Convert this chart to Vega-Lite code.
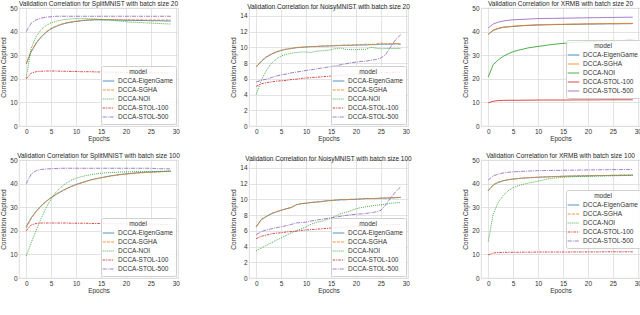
{
"$schema": "https://vega.github.io/schema/vega-lite/v6.json",
"padding": {"left": 0, "top": 0, "right": 0, "bottom": 0},
"background": "white",
"columns": 3,
"spacing": {"row": 10, "column": 49},
"resolve": {"scale": {"color": "independent", "strokeDash": "independent"}, "legend": {"color": "independent", "strokeDash": "independent"}},
"config": {
  "font": "Liberation Sans",
  "view": {"stroke": "#d4d4d4", "strokeWidth": 0.8},
  "title": {"fontSize": 6.5, "fontWeight": "normal", "offset": -2.5, "color": "#262626", "anchor": "middle"},
  "axis": {"labelFontSize": 6.5, "titleFontSize": 6.5, "titleFontWeight": "normal", "labelColor": "#333333", "titleColor": "#333333", "ticks": false, "domain": false, "gridColor": "#dcdcdc", "gridWidth": 0.8},
  "axisX": {"labelPadding": 2.5, "titlePadding": 0},
  "axisY": {"labelPadding": 2, "titlePadding": 3},
  "legend": {"titleFontSize": 6.5, "labelFontSize": 6.5, "titleFontWeight": "normal", "titleAnchor": "middle", "fillColor": "rgba(255,255,255,0.85)", "strokeColor": "#d0d0d0", "padding": 3, "cornerRadius": 2, "symbolType": "M-1.45,0L1.45,0", "symbolSize": 64, "symbolStrokeWidth": 1.1, "rowPadding": 1, "titlePadding": 1, "labelColor": "#333333", "titleColor": "#333333", "labelOffset": 5},
  "line": {"strokeWidth": 0.85}
},
"concat": [
{
 "title": "Validation Correlation for SplitMNIST with batch size 20",
 "width": 159, "height": 118,
 "data": {"values": [
{"e":0,"DCCA-EigenGame":26.3,"DCCA-SGHA":26.5,"DCCA-NOI":20.5,"DCCA-STOL-100":20.0,"DCCA-STOL-500":40.0},
{"e":1,"DCCA-EigenGame":31.5,"DCCA-SGHA":31.8,"DCCA-NOI":33.0,"DCCA-STOL-100":22.4,"DCCA-STOL-500":43.6},
{"e":2,"DCCA-EigenGame":35.0,"DCCA-SGHA":35.3,"DCCA-NOI":38.0,"DCCA-STOL-100":23.0,"DCCA-STOL-500":45.0},
{"e":3,"DCCA-EigenGame":37.7,"DCCA-SGHA":37.9,"DCCA-NOI":40.8,"DCCA-STOL-100":23.2,"DCCA-STOL-500":45.7},
{"e":4,"DCCA-EigenGame":39.7,"DCCA-SGHA":39.9,"DCCA-NOI":42.6,"DCCA-STOL-100":23.3,"DCCA-STOL-500":46.1},
{"e":5,"DCCA-EigenGame":41.2,"DCCA-SGHA":41.4,"DCCA-NOI":43.7,"DCCA-STOL-100":23.3,"DCCA-STOL-500":46.3},
{"e":6,"DCCA-EigenGame":42.2,"DCCA-SGHA":42.4,"DCCA-NOI":44.4,"DCCA-STOL-100":23.3,"DCCA-STOL-500":46.5},
{"e":7,"DCCA-EigenGame":43.0,"DCCA-SGHA":43.1,"DCCA-NOI":44.9,"DCCA-STOL-100":23.2,"DCCA-STOL-500":46.5},
{"e":8,"DCCA-EigenGame":43.6,"DCCA-SGHA":43.7,"DCCA-NOI":45.2,"DCCA-STOL-100":23.2,"DCCA-STOL-500":46.5},
{"e":9,"DCCA-EigenGame":44.0,"DCCA-SGHA":44.1,"DCCA-NOI":45.4,"DCCA-STOL-100":23.1,"DCCA-STOL-500":46.5},
{"e":10,"DCCA-EigenGame":44.3,"DCCA-SGHA":44.4,"DCCA-NOI":45.5,"DCCA-STOL-100":23.1,"DCCA-STOL-500":46.5},
{"e":11,"DCCA-EigenGame":44.6,"DCCA-SGHA":44.7,"DCCA-NOI":45.5,"DCCA-STOL-100":23.0,"DCCA-STOL-500":46.5},
{"e":12,"DCCA-EigenGame":44.8,"DCCA-SGHA":44.9,"DCCA-NOI":45.5,"DCCA-STOL-100":23.0,"DCCA-STOL-500":46.5},
{"e":13,"DCCA-EigenGame":44.9,"DCCA-SGHA":45.0,"DCCA-NOI":45.4,"DCCA-STOL-100":23.0,"DCCA-STOL-500":46.5},
{"e":14,"DCCA-EigenGame":45.0,"DCCA-SGHA":45.1,"DCCA-NOI":45.3,"DCCA-STOL-100":22.9,"DCCA-STOL-500":46.5},
{"e":15,"DCCA-EigenGame":45.0,"DCCA-SGHA":45.1,"DCCA-NOI":45.2,"DCCA-STOL-100":22.9,"DCCA-STOL-500":46.5},
{"e":16,"DCCA-EigenGame":45.0,"DCCA-SGHA":45.1,"DCCA-NOI":45.0,"DCCA-STOL-100":22.9,"DCCA-STOL-500":46.5},
{"e":17,"DCCA-EigenGame":45.0,"DCCA-SGHA":45.1,"DCCA-NOI":44.8,"DCCA-STOL-100":22.8,"DCCA-STOL-500":46.5},
{"e":18,"DCCA-EigenGame":44.9,"DCCA-SGHA":45.1,"DCCA-NOI":44.6,"DCCA-STOL-100":22.8,"DCCA-STOL-500":46.5},
{"e":19,"DCCA-EigenGame":44.9,"DCCA-SGHA":45.0,"DCCA-NOI":44.4,"DCCA-STOL-100":22.8,"DCCA-STOL-500":46.5},
{"e":20,"DCCA-EigenGame":44.8,"DCCA-SGHA":45.0,"DCCA-NOI":44.2,"DCCA-STOL-100":22.7,"DCCA-STOL-500":46.5},
{"e":21,"DCCA-EigenGame":44.8,"DCCA-SGHA":45.0,"DCCA-NOI":44.0,"DCCA-STOL-100":22.7,"DCCA-STOL-500":46.5},
{"e":22,"DCCA-EigenGame":44.7,"DCCA-SGHA":45.0,"DCCA-NOI":43.9,"DCCA-STOL-100":22.7,"DCCA-STOL-500":46.5},
{"e":23,"DCCA-EigenGame":44.7,"DCCA-SGHA":45.0,"DCCA-NOI":43.8,"DCCA-STOL-100":22.6,"DCCA-STOL-500":46.5},
{"e":24,"DCCA-EigenGame":44.7,"DCCA-SGHA":44.9,"DCCA-NOI":43.7,"DCCA-STOL-100":22.6,"DCCA-STOL-500":46.5},
{"e":25,"DCCA-EigenGame":44.6,"DCCA-SGHA":44.9,"DCCA-NOI":43.6,"DCCA-STOL-100":22.6,"DCCA-STOL-500":46.5},
{"e":26,"DCCA-EigenGame":44.6,"DCCA-SGHA":44.9,"DCCA-NOI":43.5,"DCCA-STOL-100":22.5,"DCCA-STOL-500":46.5},
{"e":27,"DCCA-EigenGame":44.6,"DCCA-SGHA":44.9,"DCCA-NOI":43.4,"DCCA-STOL-100":22.5,"DCCA-STOL-500":46.5},
{"e":28,"DCCA-EigenGame":44.5,"DCCA-SGHA":44.9,"DCCA-NOI":43.3,"DCCA-STOL-100":22.5,"DCCA-STOL-500":46.5},
{"e":29,"DCCA-EigenGame":44.5,"DCCA-SGHA":44.9,"DCCA-NOI":43.2,"DCCA-STOL-100":22.4,"DCCA-STOL-500":46.5}
 ]},
 "transform": [{"fold": ["DCCA-EigenGame","DCCA-SGHA","DCCA-NOI","DCCA-STOL-100","DCCA-STOL-500"], "as": ["model","value"]}],
 "mark": {"type": "line"},
 "encoding": {
  "x": {"field": "e", "type": "quantitative", "title": "Epochs", "scale": {"domain": [-1.45, 30.45], "nice": false, "zero": false}, "axis": {"values": [0,5,10,15,20,25,30]}},
  "y": {"field": "value", "type": "quantitative", "title": "Correlation Captured", "scale": {"domain": [0, 50], "nice": false}, "axis": {"values": [0,10,20,30,40,50]}},
  "color": {"field": "model", "type": "nominal", "scale": {"domain": ["DCCA-EigenGame","DCCA-SGHA","DCCA-NOI","DCCA-STOL-100","DCCA-STOL-500"], "range": ["#1f77b4","#ff7f0e","#2ca02c","#d62728","#9467bd"]}, "legend": {"title": "model", "orient": "bottom-right", "offset": 2, "encode": {"symbols": {"update": {"strokeDash": {"scale": "concat_0_strokeDash", "field": "value"}}}}}},
  "strokeDash": {"field": "model", "type": "nominal", "scale": {"domain": ["DCCA-EigenGame","DCCA-SGHA","DCCA-NOI","DCCA-STOL-100","DCCA-STOL-500"], "range": [[1,0],[3,1.2],[1,1],[2.5,1,1.2,1],[4,1,1,1]]}, "legend": null}
 }
},
{
 "title": "Validation Correlation for NoisyMNIST with batch size 20",
 "width": 159, "height": 118,
 "data": {"values": [
{"e":0,"DCCA-EigenGame":7.5,"DCCA-SGHA":7.55,"DCCA-NOI":4.0,"DCCA-STOL-100":5.05,"DCCA-STOL-500":5.6},
{"e":1,"DCCA-EigenGame":8.2,"DCCA-SGHA":8.25,"DCCA-NOI":5.8,"DCCA-STOL-100":5.35,"DCCA-STOL-500":5.8},
{"e":2,"DCCA-EigenGame":8.75,"DCCA-SGHA":8.8,"DCCA-NOI":7.0,"DCCA-STOL-100":5.5,"DCCA-STOL-500":5.95},
{"e":3,"DCCA-EigenGame":9.1,"DCCA-SGHA":9.15,"DCCA-NOI":7.9,"DCCA-STOL-100":5.6,"DCCA-STOL-500":6.15},
{"e":4,"DCCA-EigenGame":9.4,"DCCA-SGHA":9.45,"DCCA-NOI":8.5,"DCCA-STOL-100":5.7,"DCCA-STOL-500":6.35},
{"e":5,"DCCA-EigenGame":9.6,"DCCA-SGHA":9.62,"DCCA-NOI":8.9,"DCCA-STOL-100":5.75,"DCCA-STOL-500":6.5},
{"e":6,"DCCA-EigenGame":9.75,"DCCA-SGHA":9.78,"DCCA-NOI":9.1,"DCCA-STOL-100":5.8,"DCCA-STOL-500":6.6},
{"e":7,"DCCA-EigenGame":9.85,"DCCA-SGHA":9.88,"DCCA-NOI":9.25,"DCCA-STOL-100":5.9,"DCCA-STOL-500":6.75},
{"e":8,"DCCA-EigenGame":9.95,"DCCA-SGHA":9.95,"DCCA-NOI":9.35,"DCCA-STOL-100":5.95,"DCCA-STOL-500":6.85},
{"e":9,"DCCA-EigenGame":10.0,"DCCA-SGHA":10.02,"DCCA-NOI":9.4,"DCCA-STOL-100":6.05,"DCCA-STOL-500":6.95},
{"e":10,"DCCA-EigenGame":10.05,"DCCA-SGHA":10.05,"DCCA-NOI":9.4,"DCCA-STOL-100":6.1,"DCCA-STOL-500":7.05},
{"e":11,"DCCA-EigenGame":10.1,"DCCA-SGHA":10.1,"DCCA-NOI":9.35,"DCCA-STOL-100":6.15,"DCCA-STOL-500":7.15},
{"e":12,"DCCA-EigenGame":10.1,"DCCA-SGHA":10.12,"DCCA-NOI":9.5,"DCCA-STOL-100":6.2,"DCCA-STOL-500":7.25},
{"e":13,"DCCA-EigenGame":10.15,"DCCA-SGHA":10.15,"DCCA-NOI":9.55,"DCCA-STOL-100":6.25,"DCCA-STOL-500":7.35},
{"e":14,"DCCA-EigenGame":10.15,"DCCA-SGHA":10.2,"DCCA-NOI":9.6,"DCCA-STOL-100":6.3,"DCCA-STOL-500":7.45},
{"e":15,"DCCA-EigenGame":10.2,"DCCA-SGHA":10.2,"DCCA-NOI":9.7,"DCCA-STOL-100":6.35,"DCCA-STOL-500":7.55},
{"e":16,"DCCA-EigenGame":10.2,"DCCA-SGHA":10.25,"DCCA-NOI":9.85,"DCCA-STOL-100":6.4,"DCCA-STOL-500":7.65},
{"e":17,"DCCA-EigenGame":10.25,"DCCA-SGHA":10.25,"DCCA-NOI":9.9,"DCCA-STOL-100":6.45,"DCCA-STOL-500":7.8},
{"e":18,"DCCA-EigenGame":10.25,"DCCA-SGHA":10.3,"DCCA-NOI":9.75,"DCCA-STOL-100":6.5,"DCCA-STOL-500":7.9},
{"e":19,"DCCA-EigenGame":10.25,"DCCA-SGHA":10.3,"DCCA-NOI":9.7,"DCCA-STOL-100":6.55,"DCCA-STOL-500":8.05},
{"e":20,"DCCA-EigenGame":10.3,"DCCA-SGHA":10.3,"DCCA-NOI":9.7,"DCCA-STOL-100":6.6,"DCCA-STOL-500":8.1},
{"e":21,"DCCA-EigenGame":10.3,"DCCA-SGHA":10.35,"DCCA-NOI":9.75,"DCCA-STOL-100":6.6,"DCCA-STOL-500":8.2},
{"e":22,"DCCA-EigenGame":10.3,"DCCA-SGHA":10.4,"DCCA-NOI":9.75,"DCCA-STOL-100":6.65,"DCCA-STOL-500":8.25},
{"e":23,"DCCA-EigenGame":10.35,"DCCA-SGHA":10.35,"DCCA-NOI":10.0,"DCCA-STOL-100":6.7,"DCCA-STOL-500":8.35},
{"e":24,"DCCA-EigenGame":10.35,"DCCA-SGHA":10.4,"DCCA-NOI":9.9,"DCCA-STOL-100":6.7,"DCCA-STOL-500":8.45},
{"e":25,"DCCA-EigenGame":10.4,"DCCA-SGHA":10.55,"DCCA-NOI":9.8,"DCCA-STOL-100":6.75,"DCCA-STOL-500":8.65},
{"e":26,"DCCA-EigenGame":10.4,"DCCA-SGHA":10.45,"DCCA-NOI":9.85,"DCCA-STOL-100":6.8,"DCCA-STOL-500":9.1},
{"e":27,"DCCA-EigenGame":10.4,"DCCA-SGHA":10.5,"DCCA-NOI":9.85,"DCCA-STOL-100":6.8,"DCCA-STOL-500":10.1},
{"e":28,"DCCA-EigenGame":10.45,"DCCA-SGHA":10.45,"DCCA-NOI":9.85,"DCCA-STOL-100":6.85,"DCCA-STOL-500":11.0},
{"e":29,"DCCA-EigenGame":10.4,"DCCA-SGHA":10.45,"DCCA-NOI":9.85,"DCCA-STOL-100":6.85,"DCCA-STOL-500":11.6}
 ]},
 "transform": [{"fold": ["DCCA-EigenGame","DCCA-SGHA","DCCA-NOI","DCCA-STOL-100","DCCA-STOL-500"], "as": ["model","value"]}],
 "mark": {"type": "line"},
 "encoding": {
  "x": {"field": "e", "type": "quantitative", "title": "Epochs", "scale": {"domain": [-1.45, 30.45], "nice": false, "zero": false}, "axis": {"values": [0,5,10,15,20,25,30]}},
  "y": {"field": "value", "type": "quantitative", "title": "Correlation Captured", "scale": {"domain": [0, 15], "nice": false}, "axis": {"values": [0,2,4,6,8,10,12,14]}},
  "color": {"field": "model", "type": "nominal", "scale": {"domain": ["DCCA-EigenGame","DCCA-SGHA","DCCA-NOI","DCCA-STOL-100","DCCA-STOL-500"], "range": ["#1f77b4","#ff7f0e","#2ca02c","#d62728","#9467bd"]}, "legend": {"title": "model", "orient": "bottom-right", "offset": 2, "encode": {"symbols": {"update": {"strokeDash": {"scale": "concat_1_strokeDash", "field": "value"}}}}}},
  "strokeDash": {"field": "model", "type": "nominal", "scale": {"domain": ["DCCA-EigenGame","DCCA-SGHA","DCCA-NOI","DCCA-STOL-100","DCCA-STOL-500"], "range": [[1,0],[3,1.2],[1,1],[2.5,1,1.2,1],[4,1,1,1]]}, "legend": null}
 }
},
{
 "title": "Validation Correlation for XRMB with batch size 20",
 "width": 159, "height": 118,
 "data": {"values": [
{"e":0,"DCCA-EigenGame":38.8,"DCCA-SGHA":38.9,"DCCA-NOI":20.8,"DCCA-STOL-100":9.8,"DCCA-STOL-500":41.5},
{"e":1,"DCCA-EigenGame":40.5,"DCCA-SGHA":40.6,"DCCA-NOI":26.0,"DCCA-STOL-100":10.5,"DCCA-STOL-500":43.2},
{"e":2,"DCCA-EigenGame":41.3,"DCCA-SGHA":41.4,"DCCA-NOI":28.0,"DCCA-STOL-100":10.8,"DCCA-STOL-500":44.0},
{"e":3,"DCCA-EigenGame":41.8,"DCCA-SGHA":41.9,"DCCA-NOI":29.5,"DCCA-STOL-100":10.85,"DCCA-STOL-500":44.5},
{"e":4,"DCCA-EigenGame":42.0,"DCCA-SGHA":42.1,"DCCA-NOI":30.6,"DCCA-STOL-100":10.9,"DCCA-STOL-500":44.8},
{"e":5,"DCCA-EigenGame":42.2,"DCCA-SGHA":42.3,"DCCA-NOI":31.5,"DCCA-STOL-100":10.9,"DCCA-STOL-500":45.0},
{"e":6,"DCCA-EigenGame":42.35,"DCCA-SGHA":42.45,"DCCA-NOI":32.1,"DCCA-STOL-100":10.9,"DCCA-STOL-500":45.1},
{"e":7,"DCCA-EigenGame":42.5,"DCCA-SGHA":42.6,"DCCA-NOI":32.6,"DCCA-STOL-100":10.95,"DCCA-STOL-500":45.2},
{"e":8,"DCCA-EigenGame":42.6,"DCCA-SGHA":42.7,"DCCA-NOI":33.1,"DCCA-STOL-100":10.95,"DCCA-STOL-500":45.3},
{"e":9,"DCCA-EigenGame":42.7,"DCCA-SGHA":42.8,"DCCA-NOI":33.4,"DCCA-STOL-100":10.95,"DCCA-STOL-500":45.4},
{"e":10,"DCCA-EigenGame":42.8,"DCCA-SGHA":42.9,"DCCA-NOI":33.7,"DCCA-STOL-100":11.0,"DCCA-STOL-500":45.5},
{"e":11,"DCCA-EigenGame":42.85,"DCCA-SGHA":42.95,"DCCA-NOI":34.0,"DCCA-STOL-100":11.0,"DCCA-STOL-500":45.55},
{"e":12,"DCCA-EigenGame":42.9,"DCCA-SGHA":43.0,"DCCA-NOI":34.3,"DCCA-STOL-100":11.0,"DCCA-STOL-500":45.6},
{"e":13,"DCCA-EigenGame":42.95,"DCCA-SGHA":43.05,"DCCA-NOI":34.6,"DCCA-STOL-100":11.0,"DCCA-STOL-500":45.6},
{"e":14,"DCCA-EigenGame":43.0,"DCCA-SGHA":43.1,"DCCA-NOI":34.8,"DCCA-STOL-100":11.0,"DCCA-STOL-500":45.65},
{"e":15,"DCCA-EigenGame":43.0,"DCCA-SGHA":43.1,"DCCA-NOI":35.0,"DCCA-STOL-100":11.0,"DCCA-STOL-500":45.7},
{"e":16,"DCCA-EigenGame":43.05,"DCCA-SGHA":43.15,"DCCA-NOI":35.2,"DCCA-STOL-100":11.0,"DCCA-STOL-500":45.7},
{"e":17,"DCCA-EigenGame":43.1,"DCCA-SGHA":43.2,"DCCA-NOI":35.3,"DCCA-STOL-100":11.05,"DCCA-STOL-500":45.75},
{"e":18,"DCCA-EigenGame":43.1,"DCCA-SGHA":43.2,"DCCA-NOI":35.5,"DCCA-STOL-100":11.05,"DCCA-STOL-500":45.8},
{"e":19,"DCCA-EigenGame":43.15,"DCCA-SGHA":43.25,"DCCA-NOI":35.6,"DCCA-STOL-100":11.05,"DCCA-STOL-500":45.8},
{"e":20,"DCCA-EigenGame":43.2,"DCCA-SGHA":43.3,"DCCA-NOI":35.7,"DCCA-STOL-100":11.05,"DCCA-STOL-500":45.85},
{"e":21,"DCCA-EigenGame":43.2,"DCCA-SGHA":43.3,"DCCA-NOI":35.8,"DCCA-STOL-100":11.05,"DCCA-STOL-500":45.9},
{"e":22,"DCCA-EigenGame":43.25,"DCCA-SGHA":43.35,"DCCA-NOI":35.9,"DCCA-STOL-100":11.05,"DCCA-STOL-500":45.9},
{"e":23,"DCCA-EigenGame":43.25,"DCCA-SGHA":43.35,"DCCA-NOI":36.0,"DCCA-STOL-100":11.1,"DCCA-STOL-500":45.95},
{"e":24,"DCCA-EigenGame":43.3,"DCCA-SGHA":43.4,"DCCA-NOI":36.0,"DCCA-STOL-100":11.1,"DCCA-STOL-500":46.0},
{"e":25,"DCCA-EigenGame":43.3,"DCCA-SGHA":43.4,"DCCA-NOI":36.1,"DCCA-STOL-100":11.1,"DCCA-STOL-500":46.0},
{"e":26,"DCCA-EigenGame":43.3,"DCCA-SGHA":43.4,"DCCA-NOI":36.2,"DCCA-STOL-100":11.1,"DCCA-STOL-500":46.05},
{"e":27,"DCCA-EigenGame":43.35,"DCCA-SGHA":43.45,"DCCA-NOI":36.2,"DCCA-STOL-100":11.1,"DCCA-STOL-500":46.05},
{"e":28,"DCCA-EigenGame":43.35,"DCCA-SGHA":43.45,"DCCA-NOI":36.3,"DCCA-STOL-100":11.1,"DCCA-STOL-500":46.1},
{"e":29,"DCCA-EigenGame":43.4,"DCCA-SGHA":43.5,"DCCA-NOI":36.3,"DCCA-STOL-100":11.1,"DCCA-STOL-500":46.1}
 ]},
 "transform": [{"fold": ["DCCA-EigenGame","DCCA-SGHA","DCCA-NOI","DCCA-STOL-100","DCCA-STOL-500"], "as": ["model","value"]}],
 "mark": {"type": "line"},
 "encoding": {
  "x": {"field": "e", "type": "quantitative", "title": "Epochs", "scale": {"domain": [-1.45, 30.45], "nice": false, "zero": false}, "axis": {"values": [0,5,10,15,20,25,30]}},
  "y": {"field": "value", "type": "quantitative", "title": "Correlation Captured", "scale": {"domain": [0, 50], "nice": false}, "axis": {"values": [0,10,20,30,40,50]}},
  "color": {"field": "model", "type": "nominal", "scale": {"domain": ["DCCA-EigenGame","DCCA-SGHA","DCCA-NOI","DCCA-STOL-100","DCCA-STOL-500"], "range": ["#1f77b4","#ff7f0e","#2ca02c","#d62728","#9467bd"]}, "legend": {"title": "model", "orient": "none", "legendX": 85, "legendY": 32}}
 }
},
{
 "title": "Validation Correlation for SplitMNIST with batch size 100",
 "width": 159, "height": 118,
 "data": {"values": [
{"e":0,"DCCA-EigenGame":21.8,"DCCA-SGHA":21.2,"DCCA-NOI":9.3,"DCCA-STOL-100":20.0,"DCCA-STOL-500":40.0},
{"e":1,"DCCA-EigenGame":25.5,"DCCA-SGHA":25.2,"DCCA-NOI":15.0,"DCCA-STOL-100":22.5,"DCCA-STOL-500":44.0},
{"e":2,"DCCA-EigenGame":28.3,"DCCA-SGHA":28.1,"DCCA-NOI":20.2,"DCCA-STOL-100":23.1,"DCCA-STOL-500":45.5},
{"e":3,"DCCA-EigenGame":30.6,"DCCA-SGHA":30.5,"DCCA-NOI":25.3,"DCCA-STOL-100":23.3,"DCCA-STOL-500":46.0},
{"e":4,"DCCA-EigenGame":32.5,"DCCA-SGHA":32.4,"DCCA-NOI":29.8,"DCCA-STOL-100":23.3,"DCCA-STOL-500":46.2},
{"e":5,"DCCA-EigenGame":34.1,"DCCA-SGHA":34.0,"DCCA-NOI":33.5,"DCCA-STOL-100":23.3,"DCCA-STOL-500":46.3},
{"e":6,"DCCA-EigenGame":35.5,"DCCA-SGHA":35.4,"DCCA-NOI":36.4,"DCCA-STOL-100":23.3,"DCCA-STOL-500":46.4},
{"e":7,"DCCA-EigenGame":36.7,"DCCA-SGHA":36.6,"DCCA-NOI":38.6,"DCCA-STOL-100":23.3,"DCCA-STOL-500":46.5},
{"e":8,"DCCA-EigenGame":37.8,"DCCA-SGHA":37.7,"DCCA-NOI":40.2,"DCCA-STOL-100":23.3,"DCCA-STOL-500":46.5},
{"e":9,"DCCA-EigenGame":38.8,"DCCA-SGHA":38.7,"DCCA-NOI":41.4,"DCCA-STOL-100":23.2,"DCCA-STOL-500":46.5},
{"e":10,"DCCA-EigenGame":39.6,"DCCA-SGHA":39.5,"DCCA-NOI":42.3,"DCCA-STOL-100":23.2,"DCCA-STOL-500":46.5},
{"e":11,"DCCA-EigenGame":40.3,"DCCA-SGHA":40.2,"DCCA-NOI":42.9,"DCCA-STOL-100":23.2,"DCCA-STOL-500":46.5},
{"e":12,"DCCA-EigenGame":41.0,"DCCA-SGHA":40.9,"DCCA-NOI":43.4,"DCCA-STOL-100":23.2,"DCCA-STOL-500":46.5},
{"e":13,"DCCA-EigenGame":41.6,"DCCA-SGHA":41.5,"DCCA-NOI":43.8,"DCCA-STOL-100":23.1,"DCCA-STOL-500":46.5},
{"e":14,"DCCA-EigenGame":42.1,"DCCA-SGHA":42.0,"DCCA-NOI":44.1,"DCCA-STOL-100":23.1,"DCCA-STOL-500":46.5},
{"e":15,"DCCA-EigenGame":42.5,"DCCA-SGHA":42.4,"DCCA-NOI":44.4,"DCCA-STOL-100":23.1,"DCCA-STOL-500":46.5},
{"e":16,"DCCA-EigenGame":42.9,"DCCA-SGHA":42.8,"DCCA-NOI":44.6,"DCCA-STOL-100":23.0,"DCCA-STOL-500":46.5},
{"e":17,"DCCA-EigenGame":43.3,"DCCA-SGHA":43.2,"DCCA-NOI":44.7,"DCCA-STOL-100":23.0,"DCCA-STOL-500":46.5},
{"e":18,"DCCA-EigenGame":43.6,"DCCA-SGHA":43.5,"DCCA-NOI":44.8,"DCCA-STOL-100":23.0,"DCCA-STOL-500":46.5},
{"e":19,"DCCA-EigenGame":43.9,"DCCA-SGHA":43.8,"DCCA-NOI":44.9,"DCCA-STOL-100":23.0,"DCCA-STOL-500":46.5},
{"e":20,"DCCA-EigenGame":44.1,"DCCA-SGHA":44.0,"DCCA-NOI":45.0,"DCCA-STOL-100":22.9,"DCCA-STOL-500":46.5},
{"e":21,"DCCA-EigenGame":44.3,"DCCA-SGHA":44.2,"DCCA-NOI":45.0,"DCCA-STOL-100":22.9,"DCCA-STOL-500":46.5},
{"e":22,"DCCA-EigenGame":44.5,"DCCA-SGHA":44.4,"DCCA-NOI":45.1,"DCCA-STOL-100":22.9,"DCCA-STOL-500":46.5},
{"e":23,"DCCA-EigenGame":44.7,"DCCA-SGHA":44.6,"DCCA-NOI":45.1,"DCCA-STOL-100":22.8,"DCCA-STOL-500":46.5},
{"e":24,"DCCA-EigenGame":44.8,"DCCA-SGHA":44.7,"DCCA-NOI":45.1,"DCCA-STOL-100":22.8,"DCCA-STOL-500":46.5},
{"e":25,"DCCA-EigenGame":44.9,"DCCA-SGHA":44.8,"DCCA-NOI":45.1,"DCCA-STOL-100":22.8,"DCCA-STOL-500":46.5},
{"e":26,"DCCA-EigenGame":45.0,"DCCA-SGHA":44.9,"DCCA-NOI":45.1,"DCCA-STOL-100":22.8,"DCCA-STOL-500":46.4},
{"e":27,"DCCA-EigenGame":45.1,"DCCA-SGHA":45.0,"DCCA-NOI":45.2,"DCCA-STOL-100":22.7,"DCCA-STOL-500":46.3},
{"e":28,"DCCA-EigenGame":45.2,"DCCA-SGHA":45.1,"DCCA-NOI":45.2,"DCCA-STOL-100":22.7,"DCCA-STOL-500":46.3},
{"e":29,"DCCA-EigenGame":45.3,"DCCA-SGHA":45.2,"DCCA-NOI":45.2,"DCCA-STOL-100":22.7,"DCCA-STOL-500":46.2}
 ]},
 "transform": [{"fold": ["DCCA-EigenGame","DCCA-SGHA","DCCA-NOI","DCCA-STOL-100","DCCA-STOL-500"], "as": ["model","value"]}],
 "mark": {"type": "line"},
 "encoding": {
  "x": {"field": "e", "type": "quantitative", "title": "Epochs", "scale": {"domain": [-1.45, 30.45], "nice": false, "zero": false}, "axis": {"values": [0,5,10,15,20,25,30]}},
  "y": {"field": "value", "type": "quantitative", "title": "Correlation Captured", "scale": {"domain": [0, 50], "nice": false}, "axis": {"values": [0,10,20,30,40,50]}},
  "color": {"field": "model", "type": "nominal", "scale": {"domain": ["DCCA-EigenGame","DCCA-SGHA","DCCA-NOI","DCCA-STOL-100","DCCA-STOL-500"], "range": ["#1f77b4","#ff7f0e","#2ca02c","#d62728","#9467bd"]}, "legend": {"title": "model", "orient": "bottom-right", "offset": 2, "encode": {"symbols": {"update": {"strokeDash": {"scale": "concat_3_strokeDash", "field": "value"}}}}}},
  "strokeDash": {"field": "model", "type": "nominal", "scale": {"domain": ["DCCA-EigenGame","DCCA-SGHA","DCCA-NOI","DCCA-STOL-100","DCCA-STOL-500"], "range": [[1,0],[3,1.2],[1,1],[2.5,1,1.2,1],[4,1,1,1]]}, "legend": null}
 }
},
{
 "title": "Validation Correlation for NoisyMNIST with batch size 100",
 "width": 159, "height": 118,
 "data": {"values": [
{"e":0,"DCCA-EigenGame":6.5,"DCCA-SGHA":6.55,"DCCA-NOI":3.45,"DCCA-STOL-100":5.0,"DCCA-STOL-500":5.5},
{"e":1,"DCCA-EigenGame":7.4,"DCCA-SGHA":7.45,"DCCA-NOI":3.8,"DCCA-STOL-100":5.3,"DCCA-STOL-500":5.9},
{"e":2,"DCCA-EigenGame":7.8,"DCCA-SGHA":7.85,"DCCA-NOI":4.15,"DCCA-STOL-100":5.45,"DCCA-STOL-500":6.1},
{"e":3,"DCCA-EigenGame":8.15,"DCCA-SGHA":8.2,"DCCA-NOI":4.45,"DCCA-STOL-100":5.6,"DCCA-STOL-500":6.25},
{"e":4,"DCCA-EigenGame":8.4,"DCCA-SGHA":8.45,"DCCA-NOI":4.8,"DCCA-STOL-100":5.7,"DCCA-STOL-500":6.4},
{"e":5,"DCCA-EigenGame":8.6,"DCCA-SGHA":8.62,"DCCA-NOI":5.1,"DCCA-STOL-100":5.75,"DCCA-STOL-500":6.5},
{"e":6,"DCCA-EigenGame":8.8,"DCCA-SGHA":8.8,"DCCA-NOI":5.4,"DCCA-STOL-100":5.85,"DCCA-STOL-500":6.65},
{"e":7,"DCCA-EigenGame":8.95,"DCCA-SGHA":8.97,"DCCA-NOI":5.75,"DCCA-STOL-100":5.9,"DCCA-STOL-500":6.8},
{"e":8,"DCCA-EigenGame":9.3,"DCCA-SGHA":9.3,"DCCA-NOI":6.0,"DCCA-STOL-100":5.95,"DCCA-STOL-500":7.0},
{"e":9,"DCCA-EigenGame":9.45,"DCCA-SGHA":9.45,"DCCA-NOI":6.25,"DCCA-STOL-100":6.05,"DCCA-STOL-500":7.05},
{"e":10,"DCCA-EigenGame":9.5,"DCCA-SGHA":9.52,"DCCA-NOI":6.5,"DCCA-STOL-100":6.1,"DCCA-STOL-500":7.1},
{"e":11,"DCCA-EigenGame":9.6,"DCCA-SGHA":9.6,"DCCA-NOI":6.85,"DCCA-STOL-100":6.15,"DCCA-STOL-500":7.25},
{"e":12,"DCCA-EigenGame":9.65,"DCCA-SGHA":9.65,"DCCA-NOI":7.05,"DCCA-STOL-100":6.2,"DCCA-STOL-500":7.35},
{"e":13,"DCCA-EigenGame":9.7,"DCCA-SGHA":9.72,"DCCA-NOI":7.2,"DCCA-STOL-100":6.25,"DCCA-STOL-500":7.45},
{"e":14,"DCCA-EigenGame":9.8,"DCCA-SGHA":9.8,"DCCA-NOI":7.4,"DCCA-STOL-100":6.3,"DCCA-STOL-500":7.55},
{"e":15,"DCCA-EigenGame":9.85,"DCCA-SGHA":9.85,"DCCA-NOI":7.6,"DCCA-STOL-100":6.35,"DCCA-STOL-500":7.65},
{"e":16,"DCCA-EigenGame":9.9,"DCCA-SGHA":9.9,"DCCA-NOI":7.9,"DCCA-STOL-100":6.4,"DCCA-STOL-500":7.75},
{"e":17,"DCCA-EigenGame":9.95,"DCCA-SGHA":9.95,"DCCA-NOI":8.2,"DCCA-STOL-100":6.45,"DCCA-STOL-500":7.85},
{"e":18,"DCCA-EigenGame":9.95,"DCCA-SGHA":9.97,"DCCA-NOI":8.35,"DCCA-STOL-100":6.5,"DCCA-STOL-500":7.95},
{"e":19,"DCCA-EigenGame":10.0,"DCCA-SGHA":10.0,"DCCA-NOI":8.55,"DCCA-STOL-100":6.55,"DCCA-STOL-500":8.05},
{"e":20,"DCCA-EigenGame":10.0,"DCCA-SGHA":10.02,"DCCA-NOI":8.8,"DCCA-STOL-100":6.6,"DCCA-STOL-500":8.1},
{"e":21,"DCCA-EigenGame":10.05,"DCCA-SGHA":10.05,"DCCA-NOI":8.95,"DCCA-STOL-100":6.6,"DCCA-STOL-500":8.15},
{"e":22,"DCCA-EigenGame":10.1,"DCCA-SGHA":10.08,"DCCA-NOI":9.05,"DCCA-STOL-100":6.65,"DCCA-STOL-500":8.2},
{"e":23,"DCCA-EigenGame":10.1,"DCCA-SGHA":10.1,"DCCA-NOI":9.15,"DCCA-STOL-100":6.65,"DCCA-STOL-500":8.3},
{"e":24,"DCCA-EigenGame":10.1,"DCCA-SGHA":10.12,"DCCA-NOI":9.25,"DCCA-STOL-100":6.7,"DCCA-STOL-500":8.4},
{"e":25,"DCCA-EigenGame":10.15,"DCCA-SGHA":10.15,"DCCA-NOI":9.3,"DCCA-STOL-100":6.7,"DCCA-STOL-500":8.6},
{"e":26,"DCCA-EigenGame":10.15,"DCCA-SGHA":10.17,"DCCA-NOI":9.4,"DCCA-STOL-100":6.75,"DCCA-STOL-500":9.3},
{"e":27,"DCCA-EigenGame":10.2,"DCCA-SGHA":10.2,"DCCA-NOI":9.5,"DCCA-STOL-100":6.75,"DCCA-STOL-500":10.2},
{"e":28,"DCCA-EigenGame":10.2,"DCCA-SGHA":10.22,"DCCA-NOI":9.55,"DCCA-STOL-100":6.8,"DCCA-STOL-500":11.0},
{"e":29,"DCCA-EigenGame":10.25,"DCCA-SGHA":10.25,"DCCA-NOI":9.6,"DCCA-STOL-100":6.8,"DCCA-STOL-500":11.6}
 ]},
 "transform": [{"fold": ["DCCA-EigenGame","DCCA-SGHA","DCCA-NOI","DCCA-STOL-100","DCCA-STOL-500"], "as": ["model","value"]}],
 "mark": {"type": "line"},
 "encoding": {
  "x": {"field": "e", "type": "quantitative", "title": "Epochs", "scale": {"domain": [-1.45, 30.45], "nice": false, "zero": false}, "axis": {"values": [0,5,10,15,20,25,30]}},
  "y": {"field": "value", "type": "quantitative", "title": "Correlation Captured", "scale": {"domain": [0, 15], "nice": false}, "axis": {"values": [0,2,4,6,8,10,12,14]}},
  "color": {"field": "model", "type": "nominal", "scale": {"domain": ["DCCA-EigenGame","DCCA-SGHA","DCCA-NOI","DCCA-STOL-100","DCCA-STOL-500"], "range": ["#1f77b4","#ff7f0e","#2ca02c","#d62728","#9467bd"]}, "legend": {"title": "model", "orient": "bottom-right", "offset": 2, "encode": {"symbols": {"update": {"strokeDash": {"scale": "concat_4_strokeDash", "field": "value"}}}}}},
  "strokeDash": {"field": "model", "type": "nominal", "scale": {"domain": ["DCCA-EigenGame","DCCA-SGHA","DCCA-NOI","DCCA-STOL-100","DCCA-STOL-500"], "range": [[1,0],[3,1.2],[1,1],[2.5,1,1.2,1],[4,1,1,1]]}, "legend": null}
 }
},
{
 "title": "Validation Correlation for XRMB with batch size 100",
 "width": 159, "height": 118,
 "data": {"values": [
{"e":0,"DCCA-EigenGame":37.0,"DCCA-SGHA":37.1,"DCCA-NOI":15.5,"DCCA-STOL-100":9.8,"DCCA-STOL-500":41.5},
{"e":1,"DCCA-EigenGame":39.4,"DCCA-SGHA":39.5,"DCCA-NOI":27.0,"DCCA-STOL-100":10.6,"DCCA-STOL-500":43.3},
{"e":2,"DCCA-EigenGame":40.5,"DCCA-SGHA":40.6,"DCCA-NOI":32.0,"DCCA-STOL-100":10.8,"DCCA-STOL-500":44.0},
{"e":3,"DCCA-EigenGame":41.2,"DCCA-SGHA":41.3,"DCCA-NOI":35.0,"DCCA-STOL-100":10.85,"DCCA-STOL-500":44.5},
{"e":4,"DCCA-EigenGame":41.6,"DCCA-SGHA":41.7,"DCCA-NOI":37.0,"DCCA-STOL-100":10.9,"DCCA-STOL-500":44.8},
{"e":5,"DCCA-EigenGame":41.9,"DCCA-SGHA":42.0,"DCCA-NOI":38.3,"DCCA-STOL-100":10.9,"DCCA-STOL-500":45.0},
{"e":6,"DCCA-EigenGame":42.1,"DCCA-SGHA":42.2,"DCCA-NOI":39.1,"DCCA-STOL-100":10.9,"DCCA-STOL-500":45.1},
{"e":7,"DCCA-EigenGame":42.3,"DCCA-SGHA":42.4,"DCCA-NOI":39.7,"DCCA-STOL-100":10.95,"DCCA-STOL-500":45.2},
{"e":8,"DCCA-EigenGame":42.45,"DCCA-SGHA":42.55,"DCCA-NOI":40.2,"DCCA-STOL-100":10.95,"DCCA-STOL-500":45.3},
{"e":9,"DCCA-EigenGame":42.55,"DCCA-SGHA":42.65,"DCCA-NOI":40.6,"DCCA-STOL-100":10.95,"DCCA-STOL-500":45.4},
{"e":10,"DCCA-EigenGame":42.65,"DCCA-SGHA":42.75,"DCCA-NOI":41.0,"DCCA-STOL-100":11.0,"DCCA-STOL-500":45.5},
{"e":11,"DCCA-EigenGame":42.75,"DCCA-SGHA":42.85,"DCCA-NOI":41.5,"DCCA-STOL-100":11.0,"DCCA-STOL-500":45.5},
{"e":12,"DCCA-EigenGame":42.85,"DCCA-SGHA":42.9,"DCCA-NOI":42.0,"DCCA-STOL-100":11.0,"DCCA-STOL-500":45.55},
{"e":13,"DCCA-EigenGame":42.95,"DCCA-SGHA":43.0,"DCCA-NOI":42.3,"DCCA-STOL-100":11.0,"DCCA-STOL-500":45.6},
{"e":14,"DCCA-EigenGame":43.0,"DCCA-SGHA":43.05,"DCCA-NOI":42.5,"DCCA-STOL-100":11.0,"DCCA-STOL-500":45.6},
{"e":15,"DCCA-EigenGame":43.1,"DCCA-SGHA":43.1,"DCCA-NOI":42.7,"DCCA-STOL-100":11.0,"DCCA-STOL-500":45.65},
{"e":16,"DCCA-EigenGame":43.15,"DCCA-SGHA":43.15,"DCCA-NOI":42.8,"DCCA-STOL-100":11.0,"DCCA-STOL-500":45.7},
{"e":17,"DCCA-EigenGame":43.2,"DCCA-SGHA":43.2,"DCCA-NOI":42.9,"DCCA-STOL-100":11.05,"DCCA-STOL-500":45.7},
{"e":18,"DCCA-EigenGame":43.25,"DCCA-SGHA":43.25,"DCCA-NOI":43.0,"DCCA-STOL-100":11.05,"DCCA-STOL-500":45.75},
{"e":19,"DCCA-EigenGame":43.3,"DCCA-SGHA":43.3,"DCCA-NOI":43.0,"DCCA-STOL-100":11.05,"DCCA-STOL-500":45.75},
{"e":20,"DCCA-EigenGame":43.3,"DCCA-SGHA":43.3,"DCCA-NOI":43.05,"DCCA-STOL-100":11.05,"DCCA-STOL-500":45.8},
{"e":21,"DCCA-EigenGame":43.35,"DCCA-SGHA":43.35,"DCCA-NOI":43.1,"DCCA-STOL-100":11.05,"DCCA-STOL-500":45.8},
{"e":22,"DCCA-EigenGame":43.4,"DCCA-SGHA":43.4,"DCCA-NOI":43.15,"DCCA-STOL-100":11.05,"DCCA-STOL-500":45.85},
{"e":23,"DCCA-EigenGame":43.4,"DCCA-SGHA":43.4,"DCCA-NOI":43.2,"DCCA-STOL-100":11.1,"DCCA-STOL-500":45.85},
{"e":24,"DCCA-EigenGame":43.45,"DCCA-SGHA":43.45,"DCCA-NOI":43.25,"DCCA-STOL-100":11.1,"DCCA-STOL-500":45.9},
{"e":25,"DCCA-EigenGame":43.5,"DCCA-SGHA":43.5,"DCCA-NOI":43.3,"DCCA-STOL-100":11.1,"DCCA-STOL-500":45.9},
{"e":26,"DCCA-EigenGame":43.5,"DCCA-SGHA":43.5,"DCCA-NOI":43.35,"DCCA-STOL-100":11.1,"DCCA-STOL-500":45.95},
{"e":27,"DCCA-EigenGame":43.55,"DCCA-SGHA":43.55,"DCCA-NOI":43.4,"DCCA-STOL-100":11.1,"DCCA-STOL-500":45.95},
{"e":28,"DCCA-EigenGame":43.55,"DCCA-SGHA":43.55,"DCCA-NOI":43.45,"DCCA-STOL-100":11.1,"DCCA-STOL-500":46.0},
{"e":29,"DCCA-EigenGame":43.6,"DCCA-SGHA":43.6,"DCCA-NOI":43.5,"DCCA-STOL-100":11.1,"DCCA-STOL-500":46.0}
 ]},
 "transform": [{"fold": ["DCCA-EigenGame","DCCA-SGHA","DCCA-NOI","DCCA-STOL-100","DCCA-STOL-500"], "as": ["model","value"]}],
 "mark": {"type": "line"},
 "encoding": {
  "x": {"field": "e", "type": "quantitative", "title": "Epochs", "scale": {"domain": [-1.45, 30.45], "nice": false, "zero": false}, "axis": {"values": [0,5,10,15,20,25,30]}},
  "y": {"field": "value", "type": "quantitative", "title": "Correlation Captured", "scale": {"domain": [0, 50], "nice": false}, "axis": {"values": [0,10,20,30,40,50]}},
  "color": {"field": "model", "type": "nominal", "scale": {"domain": ["DCCA-EigenGame","DCCA-SGHA","DCCA-NOI","DCCA-STOL-100","DCCA-STOL-500"], "range": ["#1f77b4","#ff7f0e","#2ca02c","#d62728","#9467bd"]}, "legend": {"title": "model", "orient": "none", "legendX": 85, "legendY": 30, "encode": {"symbols": {"update": {"strokeDash": {"scale": "concat_5_strokeDash", "field": "value"}}}}}},
  "strokeDash": {"field": "model", "type": "nominal", "scale": {"domain": ["DCCA-EigenGame","DCCA-SGHA","DCCA-NOI","DCCA-STOL-100","DCCA-STOL-500"], "range": [[1,0],[3,1.2],[1,1],[2.5,1,1.2,1],[4,1,1,1]]}, "legend": null}
 }
}
]
}
